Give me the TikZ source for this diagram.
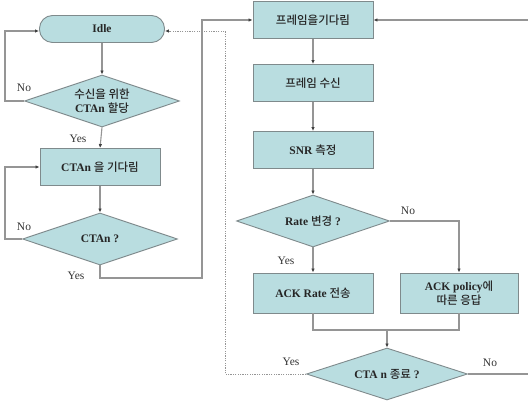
\documentclass[tikz,border=0pt]{standalone}
\usepackage{fontspec}
\setmainfont{Liberation Serif}
\newfontfamily\kr{Noto Sans CJK KR}[BoldFont={Noto Sans CJK KR Medium}]
\usetikzlibrary{arrows.meta, shapes.geometric}
\definecolor{boxfill}{HTML}{B9DDE0}
\definecolor{boxline}{HTML}{7F8A8C}
\definecolor{linegray}{HTML}{959595}

\begin{document}
\begin{tikzpicture}[x=1pt, y=-1pt,
    box/.style={draw=boxline, fill=boxfill, line width=0.9pt, minimum width=120pt, minimum height=37pt,
                inner sep=0pt, align=center, text=black!85, font=\fontsize{11.5}{13.5}\selectfont\bfseries},
    decision/.style={box, diamond, aspect=3, minimum width=155pt, minimum height=52pt},
    term/.style={box, rounded corners=13pt, minimum width=125pt, minimum height=27pt},
    link/.style={draw=linegray, line width=1.1pt, -{Latex[length=4pt, width=3.5pt, color=black!75]}},
    plain/.style={draw=linegray, line width=1.1pt},
    tag/.style={font=\fontsize{11.5}{13.5}\selectfont, text=black!80}]
    \useasboundingbox (0,0) rectangle (528,403);

    % left column
    \node[term]     (idle)    at (102,29)  {Idle};
    \node[decision] (alloc)   at (102,101) {{\kr 수신을 위한}\\CTAn {\kr 할당}};
    \node[box]      (waitcta) at (100,167) {CTAn {\kr 을 기다림}};
    \node[decision] (ctaq)    at (100,239) {CTAn ?};

    % right column
    \node[box]      (waitfr)  at (313,20)  {{\kr 프레임을기다림}};
    \node[box]      (rxfr)    at (313,83)  {{\kr 프레임 수신}};
    \node[box]      (snr)     at (313,150) {SNR {\kr 측정}};
    \node[decision, minimum width=153pt] (ratechg) at (313,221) {Rate {\kr 변경} ?};
    \node[box, minimum height=40pt] (ackrate) at (313,293) {ACK Rate {\kr 전송}};
    \node[box, minimum height=40pt, minimum width=118pt] (ackpol) at (459,293)
          {ACK policy{\kr 에}\\{\kr 따른 응답}};
    \node[decision, minimum width=161pt] (ctaend) at (387,374) {CTA n {\kr 종료} ?};

    \coordinate (join)   at (387,330);
    \coordinate (outtop) at (528,20);
    \coordinate (outbot) at (528,374);

    % left flow
    \draw[link] (idle.south) -- (alloc.north);
    \draw[link] (alloc.west) -- (5,101) -- (5,31) -- (idle.west |- 0,31);
    \node[tag] (no1) at (24,88) {No};
    \draw[link] (alloc.south) -- (waitcta.north);
    \node[tag] (yes1) at (78,139) {Yes};
    \draw[link] (waitcta.south) -- (ctaq.north);
    \draw[link] (ctaq.west) -- (5,239) -- (5,167) -- (waitcta.west);
    \node[tag] (no2) at (24,227) {No};
    \draw[link] (ctaq.south) -- (100,278) -- (202,278) -- (202,20) -- (waitfr.west);
    \node[tag] (yes2) at (76,276) {Yes};

    % right flow
    \draw[link] (waitfr.south) -- (rxfr.north);
    \draw[link] (rxfr.south) -- (snr.north);
    \draw[link] (snr.south) -- (ratechg.north);
    \draw[link] (ratechg.east) -- (459,221) -- (ackpol.north);
    \node[tag] (no3) at (408,211) {No};
    \draw[link] (ratechg.south) -- (ackrate.north);
    \node[tag] (yes3) at (286,261) {Yes};
    \draw[plain] (ackrate.south) -- (313,330) -- (join);
    \draw[plain] (ackpol.south) -- (459,330) -- (join);
    \draw[link] (join) -- (ctaend.north);
    \draw[link, line width=0.9pt, dash pattern=on 1.2pt off 1.2pt]
          (ctaend.west) -- (225,374) -- (225,31) -- (idle.east |- 0,31);
    \node[tag] (yes4) at (291,362) {Yes};
    \draw[plain] (ctaend.east) -- (outbot);
    \node[tag] (no4) at (490,363) {No};
    \draw[link] (outtop) -- (waitfr.east);
\end{tikzpicture}
\end{document}
